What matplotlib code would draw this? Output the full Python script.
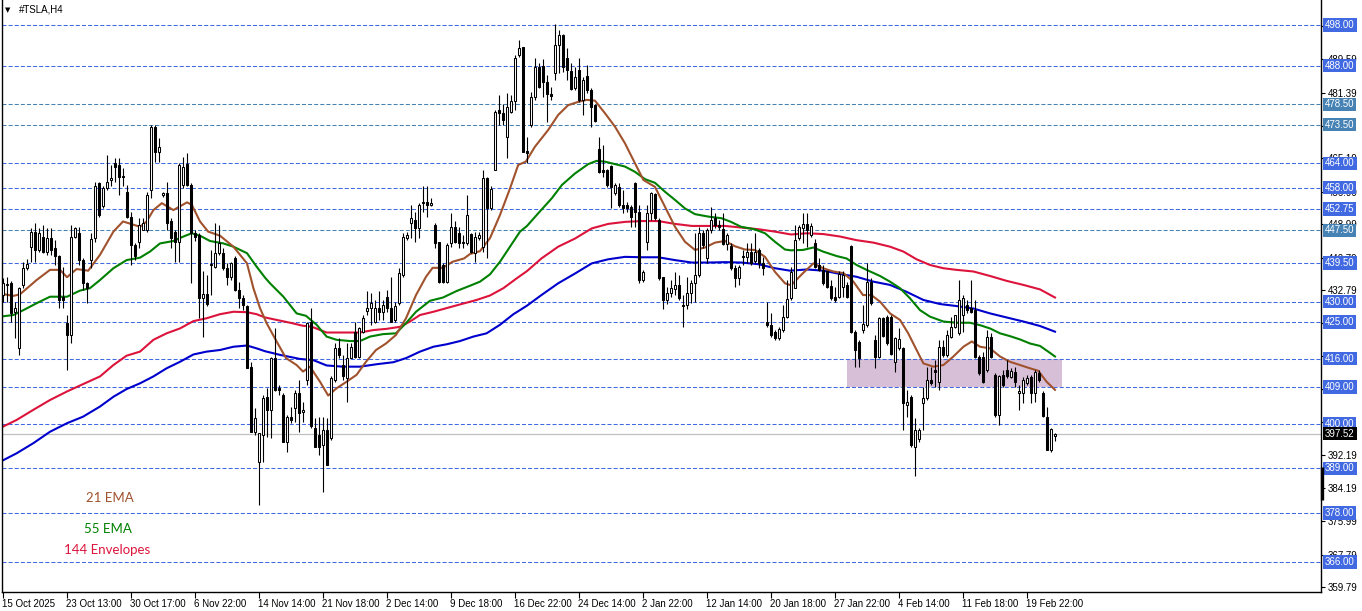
import matplotlib
matplotlib.use('Agg')
from matplotlib import pyplot as plt
from matplotlib.patches import Rectangle
import matplotlib.transforms as mtransforms

plt.rcParams['font.family'] = ['Liberation Sans', 'DejaVu Sans']
plt.rcParams['lines.scale_dashes'] = False

# ---- H4 candles (bar index 0 = 15 Oct 2025) ----
opens = [
    431.6, 434.1, 434.5, 427.5, 418.5, 434.1, 438.2, 443.5, 447.2, 442.7,
    446.0, 442.3, 445.6, 443.1, 441.1, 431.2, 424.7, 421.8, 446.0, 446.8,
    440.2, 434.5, 440.2, 445.6, 459.1, 453.4, 457.9, 460.0, 464.0, 463.6,
    460.9, 457.0, 450.9, 443.9, 444.7, 447.6, 447.6, 457.5, 473.0, 466.9,
    456.2, 456.6, 449.7, 447.0, 444.7, 458.7, 463.8, 458.7, 446.8, 446.4,
    431.0, 431.8, 438.9, 438.6, 441.9, 441.9, 438.2, 436.1, 440.7, 432.9,
    430.8, 428.8, 413.8, 398.0, 390.6, 397.2, 406.6, 403.4, 416.1, 408.7,
    407.0, 395.6, 401.7, 403.8, 407.5, 402.8, 410.7, 425.1, 398.9, 397.2,
    394.8, 398.4, 396.4, 410.7, 418.5, 414.4, 411.1, 416.2, 422.6, 416.5,
    422.6, 427.7, 428.4, 425.1, 428.4, 427.5, 431.2, 428.4, 425.5, 429.6,
    436.5, 445.6, 449.2, 450.1, 448.0, 454.2, 454.6, 453.8, 448.8, 444.7,
    439.0, 434.9, 444.3, 448.4, 446.8, 444.7, 444.3, 446.6, 441.9, 445.6,
    443.5, 460.3, 452.9, 462.4, 477.1, 476.3, 470.5, 476.7, 479.2, 490.6,
    492.7, 467.1, 473.4, 480.2, 487.8, 487.9, 484.1, 481.0, 486.1, 493.1,
    495.5, 489.8, 486.7, 482.4, 487.0, 479.6, 485.5, 482.0, 478.3, 467.4,
    462.3, 462.3, 463.3, 456.6, 458.2, 453.7, 453.7, 453.3, 459.2, 452.1,
    435.3, 444.7, 451.7, 456.4, 450.1, 436.1, 430.4, 432.0, 433.0, 434.1,
    429.2, 429.2, 432.2, 434.5, 436.5, 446.8, 440.6, 447.6, 450.5, 448.8,
    447.8, 444.1, 443.7, 438.2, 435.7, 441.2, 441.0, 442.3, 440.0, 442.7,
    439.4, 425.1, 424.2, 422.6, 421.0, 423.0, 426.3, 430.8, 433.3, 445.6,
    448.0, 449.1, 446.4, 444.3, 439.0, 437.8, 437.6, 433.8, 431.2, 431.2,
    433.7, 434.1, 443.7, 422.6, 420.1, 423.0, 424.3, 434.9, 420.6, 416.5,
    425.9, 426.3, 426.3, 415.2, 418.5, 418.5, 404.6, 406.6, 394.3, 396.1,
    405.0, 406.2, 410.7, 413.2, 410.3, 418.9, 416.9, 421.4, 423.8, 422.2,
    426.7, 429.2, 428.4, 427.9, 416.5, 416.5, 413.2, 421.4, 411.9, 402.1,
    412.0, 413.2, 411.5, 412.8, 407.5, 407.5, 410.0, 411.5, 407.6, 412.5,
    407.5, 401.7, 393.5, 397.0,
]
highs = [
    435.7, 436.1, 435.0, 430.0, 433.7, 439.8, 440.5, 448.0, 449.3, 448.0,
    448.9, 448.0, 448.0, 445.2, 441.5, 438.6, 426.7, 448.9, 448.4, 448.4,
    440.7, 434.9, 446.8, 459.5, 459.5, 458.3, 466.1, 463.6, 465.2, 465.2,
    462.8, 458.7, 452.1, 444.3, 450.5, 450.5, 457.0, 473.4, 473.4, 470.2,
    457.0, 459.5, 450.5, 447.6, 464.0, 465.6, 466.5, 459.1, 447.6, 446.8,
    437.4, 436.6, 442.7, 449.3, 448.9, 443.1, 439.4, 439.8, 441.1, 434.9,
    431.6, 429.2, 415.2, 403.8, 397.6, 407.0, 408.7, 416.5, 423.4, 409.5,
    407.5, 402.1, 404.2, 408.3, 410.7, 405.4, 425.1, 428.4, 401.3, 401.7,
    401.7, 401.3, 411.6, 419.7, 421.0, 416.9, 419.7, 419.7, 425.1, 423.8,
    426.7, 432.5, 432.0, 430.4, 432.5, 430.4, 432.9, 436.1, 430.0, 438.2,
    446.8, 447.2, 453.8, 452.1, 454.2, 458.3, 458.3, 455.4, 449.2, 444.7,
    439.4, 444.3, 451.7, 449.7, 448.4, 446.4, 456.2, 446.8, 447.2, 447.2,
    462.4, 460.7, 458.3, 477.1, 480.8, 478.7, 481.2, 480.8, 490.6, 494.3,
    492.7, 470.5, 481.6, 490.0, 488.6, 489.6, 485.7, 482.8, 498.2, 496.8,
    495.8, 492.3, 488.6, 487.8, 490.0, 485.3, 488.2, 482.4, 478.7, 470.5,
    468.5, 462.7, 463.5, 459.1, 459.1, 457.4, 454.5, 453.7, 459.4, 453.7,
    437.8, 453.7, 457.0, 456.6, 450.5, 436.1, 433.7, 435.3, 437.3, 436.5,
    431.6, 436.1, 435.3, 446.8, 448.4, 447.6, 448.0, 453.3, 451.7, 450.1,
    451.7, 446.8, 444.3, 439.0, 439.0, 442.7, 444.3, 444.3, 446.8, 443.1,
    441.0, 430.0, 427.1, 423.0, 423.8, 429.2, 435.3, 438.6, 448.8, 448.8,
    451.7, 451.7, 449.2, 445.5, 440.6, 439.0, 437.8, 435.3, 433.7, 437.4,
    437.4, 434.9, 443.9, 423.0, 420.6, 429.2, 439.4, 435.7, 421.8, 426.3,
    426.3, 426.7, 426.7, 421.4, 423.4, 418.9, 408.3, 407.0, 401.3, 398.8,
    409.1, 414.0, 414.0, 415.6, 420.6, 420.6, 423.0, 426.3, 426.7, 435.3,
    431.6, 430.4, 435.3, 430.4, 416.9, 417.7, 423.0, 422.2, 412.4, 412.0,
    413.2, 415.6, 413.6, 414.0, 409.5, 411.5, 412.0, 412.0, 413.2, 413.2,
    407.9, 404.2, 398.8, 397.6,
]
lows = [
    430.0, 430.0, 425.1, 421.0, 416.9, 433.3, 437.8, 439.8, 439.8, 442.3,
    441.9, 441.5, 441.5, 439.0, 428.4, 428.4, 413.2, 419.7, 445.6, 439.0,
    432.9, 429.6, 438.2, 444.7, 450.9, 453.0, 457.5, 458.3, 459.5, 456.2,
    458.3, 450.5, 439.0, 440.2, 443.1, 447.6, 447.2, 455.4, 464.4, 464.4,
    455.8, 447.6, 443.1, 439.8, 439.8, 457.9, 458.3, 434.5, 445.0, 425.9,
    421.4, 428.8, 431.6, 438.2, 441.5, 437.8, 434.1, 435.3, 432.5, 428.4,
    428.0, 413.6, 398.0, 397.2, 380.0, 390.6, 396.8, 396.4, 407.9, 407.0,
    395.6, 393.1, 400.1, 400.5, 398.0, 400.5, 409.5, 398.9, 394.3, 392.3,
    383.3, 389.8, 396.0, 410.3, 416.1, 410.7, 405.4, 416.1, 416.1, 416.1,
    422.2, 426.7, 424.3, 424.7, 425.5, 425.5, 427.5, 425.1, 425.1, 429.2,
    436.1, 445.1, 445.6, 444.7, 445.6, 452.1, 450.9, 453.4, 443.1, 434.5,
    434.5, 434.5, 443.5, 444.3, 443.1, 443.1, 443.9, 441.9, 439.8, 445.1,
    442.3, 440.6, 452.5, 462.4, 473.4, 473.4, 465.2, 476.3, 477.1, 490.2,
    466.9, 464.0, 473.0, 479.6, 482.4, 480.4, 474.2, 479.6, 484.5, 486.1,
    486.5, 484.5, 482.0, 482.0, 479.1, 475.9, 481.2, 473.0, 474.2, 461.5,
    460.7, 458.2, 452.9, 456.2, 453.3, 451.7, 452.1, 448.4, 448.4, 434.5,
    434.9, 442.7, 450.1, 450.1, 435.3, 428.3, 429.5, 431.2, 431.6, 430.4,
    423.8, 428.3, 429.6, 430.0, 436.1, 443.1, 439.4, 446.8, 448.0, 447.6,
    443.9, 442.7, 437.8, 433.7, 434.1, 439.0, 439.4, 439.0, 439.4, 438.2,
    436.5, 423.8, 421.4, 420.6, 420.6, 422.6, 425.9, 430.4, 433.3, 445.1,
    444.3, 443.5, 446.0, 438.2, 437.4, 434.1, 433.3, 430.4, 430.0, 430.8,
    431.2, 430.8, 422.2, 414.0, 414.0, 422.2, 423.8, 429.2, 413.6, 416.1,
    421.2, 419.3, 416.9, 412.8, 418.1, 398.4, 401.7, 394.3, 387.0, 395.6,
    398.4, 405.8, 409.5, 409.1, 408.3, 416.5, 416.5, 421.0, 423.4, 421.8,
    422.6, 427.1, 427.1, 416.1, 412.0, 409.9, 412.8, 416.1, 401.7, 399.7,
    409.1, 411.1, 411.1, 409.1, 403.4, 405.0, 409.5, 405.0, 405.4, 410.3,
    401.7, 393.5, 393.1, 395.8,
]
closes = [
    434.5, 434.3, 427.1, 428.4, 433.3, 438.2, 439.2, 447.2, 442.7, 446.8,
    442.3, 445.6, 442.7, 441.1, 430.4, 430.4, 421.8, 446.0, 448.0, 440.2,
    434.5, 433.3, 445.4, 458.3, 451.3, 457.9, 459.5, 460.3, 463.2, 460.7,
    460.6, 450.9, 443.9, 441.1, 448.9, 449.3, 456.2, 473.0, 466.9, 467.9,
    456.6, 449.3, 445.6, 444.7, 463.6, 463.2, 458.7, 446.8, 446.0, 431.0,
    431.8, 429.3, 439.2, 441.9, 444.3, 438.2, 436.1, 439.4, 432.9, 430.8,
    429.2, 413.6, 398.0, 401.3, 397.6, 406.4, 403.4, 416.1, 408.3, 408.3,
    395.6, 401.7, 400.9, 407.5, 402.5, 403.4, 424.7, 399.3, 394.3, 394.3,
    398.4, 389.8, 411.1, 418.7, 416.9, 411.6, 416.1, 418.9, 416.5, 423.4,
    425.9, 428.4, 429.6, 428.4, 427.5, 429.2, 428.4, 425.1, 428.8, 437.0,
    446.0, 446.4, 450.5, 448.0, 453.8, 454.6, 453.8, 454.2, 444.3, 434.9,
    434.9, 443.9, 448.4, 444.7, 444.3, 444.3, 451.3, 442.3, 446.0, 446.4,
    460.3, 452.9, 457.8, 476.7, 476.3, 474.6, 477.9, 479.2, 489.8, 492.3,
    466.9, 466.5, 480.2, 487.6, 482.8, 484.1, 481.0, 480.5, 493.1, 495.5,
    487.8, 487.0, 482.2, 485.1, 479.6, 484.6, 481.9, 477.8, 474.4, 461.9,
    461.9, 458.6, 458.2, 458.6, 453.7, 452.9, 453.1, 450.9, 452.1, 435.3,
    437.3, 451.7, 456.6, 450.5, 435.7, 430.4, 432.0, 433.3, 434.1, 430.8,
    428.8, 432.2, 434.5, 436.5, 446.8, 443.9, 447.6, 450.1, 448.8, 448.4,
    444.1, 446.4, 438.2, 435.7, 438.6, 440.9, 442.3, 439.4, 442.3, 439.4,
    438.2, 424.2, 421.8, 421.0, 423.2, 426.3, 430.6, 437.3, 445.1, 448.4,
    449.1, 447.6, 448.6, 438.6, 437.8, 434.5, 433.7, 430.8, 430.4, 436.9,
    436.5, 431.2, 422.6, 418.1, 416.1, 424.5, 434.9, 429.6, 416.5, 425.9,
    421.6, 419.7, 417.1, 421.0, 420.7, 405.0, 405.4, 394.7, 398.4, 398.4,
    406.2, 410.7, 410.1, 412.8, 418.9, 416.9, 421.8, 423.8, 426.7, 430.4,
    430.8, 427.9, 427.5, 416.5, 412.4, 410.3, 421.4, 416.5, 402.1, 411.6,
    409.5, 411.6, 413.0, 410.3, 408.1, 410.7, 411.1, 407.5, 412.8, 410.7,
    401.9, 393.5, 398.6, 397.52,
]

# ---- indicator lines, sampled off the chart (bar index, price) ----
ema21_x = [-0.75, 2.6, 4.25, 6.75, 8.4, 11.75, 14.25, 16, 18.4, 21.3, 24.25, 27.6, 30, 32.6, 34.25,
           35.9, 37.6, 39.7, 42.6, 46, 47.2, 49.25, 51.3, 54.25, 57.6, 61, 62.6, 64.25, 65.9, 68.4,
           70.75, 73.4, 75, 76.75, 79.25, 81.3, 83.4, 85.9, 88.4, 90.75, 93.25, 95.75, 98.25,
           100.75, 103.25, 105.75, 107.4, 109.9, 112.4, 115.25, 116.75, 119.25, 121.75, 124.25,
           126.75, 128.8, 130.7, 133, 136.3, 138.8, 141.3, 143.8, 145.9, 148, 150.5, 153, 155.5,
           158, 160.1, 163, 165.5, 168, 170.5, 173, 175.5, 178, 180.5, 183, 185.5, 188, 190.5, 193,
           195.5, 197, 200, 202.6, 205, 207.6, 210.1, 212.6, 215, 217.1, 219.25, 221.75, 224.25,
           226.3, 228.4, 230.1, 232.6, 235.1, 237.6, 240.1, 242.2, 244.25, 246.75, 249.25, 251.75,
           254.25, 256.75, 258.8, 260.9, 263]
ema21_y = [432.0, 431.4, 431.8, 433.9, 435.3, 437.8, 437.8, 436.0, 438.0, 437.6, 441.5, 447.2, 449.7,
           448.9, 448.4, 449.7, 452.5, 454.2, 452.5, 454.4, 453.8, 449.7, 447.2, 446.2, 443.5, 439.4,
           433.3, 428.4, 424.7, 420.2, 416.1, 414.4, 412.8, 414.0, 410.3, 406.9, 408.7, 410.3, 412.0,
           415.2, 418.1, 419.7, 421.8, 425.9, 431.6, 436.1, 438.3, 438.3, 439.8, 440.6, 441.7, 442.4,
           445.6, 451.3, 457.8, 463.6, 464.4, 468.1, 472.2, 475.9, 478.3, 479.1, 479.6, 479.4, 476.3,
           473.0, 468.9, 464.0, 459.9, 458.2, 453.3, 448.4, 444.7, 442.7, 443.3, 444.5, 444.9, 443.6,
           442.8, 442.7, 441.0, 437.3, 434.5, 434.0, 437.0, 439.4, 438.2, 437.4, 437.0, 434.9, 431.6,
           431.6, 430.0, 427.1, 425.5, 422.2, 418.1, 414.8, 414.0, 414.4, 416.5, 418.9, 420.2, 418.9,
           418.5, 416.5, 415.2, 414.4, 413.6, 413.0, 410.3, 408.3]

ema55_x = [-0.75, 2.6, 5.1, 8.4, 11.75, 16, 19.25, 21.75, 24.25, 27.6, 30.9, 34.25, 36.75, 39.25, 42.6,
           45.1, 47.2, 49.25, 51.75, 55.1, 57.6, 61, 63.4, 65.5, 66.75, 70.1, 73.4, 75.75, 78.4, 80.9,
           83.4, 86.75, 89.25, 91.75, 95, 98.25, 100.75, 103.25, 106.75, 110, 113.4, 116.75, 119.25,
           121.75, 124.25, 126.75, 129.25, 131, 133.8, 137.2, 139.75, 143, 146.3, 148.4, 150.5, 153,
           155.5, 158, 160.5, 163, 165.5, 168, 170.5, 173, 176.3, 179.6, 182, 184.5, 187.8, 190.5,
           193, 195.5, 197, 200, 202.6, 205, 208.4, 210.9, 213.4, 215.9, 219.25, 221.75, 224.25,
           226.75, 229.25, 231.75, 235.1, 238.4, 241.75, 244.25, 246.75, 249.25, 251.75, 254.25,
           256.75, 259.25, 261.3, 263]
ema55_y = [426.3, 426.7, 427.9, 429.6, 431.2, 431.2, 432.7, 433.3, 435.3, 438.2, 440.2, 440.8, 442.3,
           444.3, 444.9, 446.0, 446.8, 446.2, 444.9, 444.3, 443.5, 441.9, 438.6, 435.9, 434.5, 431.2,
           427.1, 426.5, 424.3, 421.4, 420.6, 420.3, 420.3, 421.4, 422.0, 422.2, 424.7, 427.5, 430.2,
           431.0, 432.6, 433.9, 434.9, 436.7, 439.8, 443.5, 447.2, 448.6, 451.7, 455.4, 458.7, 461.5,
           463.8, 464.6, 464.4, 463.8, 463.2, 461.9, 460.1, 459.2, 457.0, 455.0, 452.9, 451.5, 450.9,
           450.5, 449.6, 448.4, 447.8, 446.8, 444.7, 442.8, 442.6, 442.7, 443.3, 442.3, 441.2, 440.6,
           439.0, 437.8, 436.3, 434.9, 433.3, 430.8, 427.9, 426.3, 425.1, 424.8, 424.8, 424.2, 423.4,
           422.2, 421.5, 420.7, 419.7, 419.1, 417.7, 416.5]

env_upper_x = [-0.75, 3.4, 7.6, 11.75, 16, 20, 24.25, 27.6, 30.9, 34.25, 37.6, 40.9, 44.25, 47.6, 50.9,
               54.25, 57.6, 61, 63.4, 65.5, 68.4, 72.25, 74.75, 77.25, 80.9, 85, 89.25, 92.6, 95.9,
               99.25, 101.75, 104.25, 107.6, 110.9, 114.25, 118.4, 121.75, 125.1, 128.4, 131,
               134.6, 138.8, 143, 147.2, 151.3, 155.5, 159.6, 163.8, 168, 172.2, 176.3, 180.5,
               184.6, 188.8, 193, 197, 201, 205.1, 209.25, 213.4, 217.6, 221.75, 225.1, 228.4,
               231.75, 235.1, 238.4, 242.6, 246.75, 250.9, 255.1, 259.25, 263]
env_upper_y = [398.9, 400.9, 403.4, 405.8, 407.9, 409.7, 411.6, 414.4, 416.7, 417.7, 420.6, 422.2,
               423.4, 425.2, 425.9, 426.9, 427.5, 427.4, 426.9, 426.1, 425.5, 424.7, 424.1, 423.8,
               422.4, 422.4, 422.4, 423.0, 423.3, 423.8, 425.1, 426.7, 427.5, 428.4, 429.3, 430.4,
               431.5, 433.3, 435.7, 437.5, 440.6, 443.5, 445.5, 448.0, 449.1, 449.6, 449.8, 449.8,
               449.1, 448.6, 448.6, 448.6, 448.2, 447.8, 447.2, 446.5, 446.8, 446.6, 446.0, 445.1,
               444.5, 443.5, 442.3, 440.4, 439.0, 438.2, 437.8, 437.4, 436.3, 435.1, 434.1, 433.0,
               431.0]

env_lower_x = [-0.75, 3.4, 7.6, 11.75, 16, 20, 24.25, 27.6, 30.9, 34.25, 37.6, 40.9, 44.25, 47.6, 50.9,
               54.25, 57.6, 61, 63.4, 65.5, 69.25, 74.25, 77.6, 80.9, 85, 89.25, 93.4, 97.6, 100.75,
               104.25, 107.6, 110.9, 114.25, 117.6, 120.9, 124.25, 127.6, 131, 134.6, 138.8, 143,
               147.2, 151.3, 155.5, 159.6, 163.8, 168, 172.2, 176.3, 180.5, 184.6, 188.8, 193,
               196.75, 201, 205.1, 209.25, 213.4, 217.6, 221.75, 225.9, 230.1, 234.25, 238.4, 242.6,
               246.75, 250.9, 255.1, 259.25, 263]
env_lower_y = [390.6, 392.7, 395.2, 398.0, 400.1, 401.7, 404.2, 406.6, 408.5, 409.9, 411.6, 413.6,
               415.2, 417.0, 417.7, 418.1, 418.9, 419.2, 418.5, 417.8, 416.9, 415.9, 415.6, 414.3,
               414.0, 414.0, 414.6, 415.1, 416.1, 417.7, 418.9, 419.5, 420.3, 421.4, 422.2, 424.3,
               426.9, 429.0, 431.6, 434.5, 436.9, 439.4, 440.4, 441.0, 440.9, 440.9, 440.2, 439.6,
               439.6, 439.7, 439.6, 439.2, 438.2, 437.6, 437.9, 437.6, 436.8, 436.1, 434.9, 434.1,
               432.4, 430.4, 429.4, 428.9, 428.3, 427.1, 426.1, 425.1, 424.0, 422.6]

# ---- horizontal levels and axis text ----
levels = [498.00, 488.00, 478.50, 473.50, 464.00, 458.00, 452.75, 447.50, 439.50,
          430.00, 425.00, 416.00, 409.00, 400.00, 389.00, 378.00, 366.00]
steel_levels = [478.50, 473.50, 447.50]
price_ticks = [359.79, 367.79, 375.99, 384.19, 392.19, 400.39, 408.59, 416.59, 424.79,
               432.79, 440.79, 448.99, 456.99, 465.19, 473.19, 481.39, 489.59, 497.79]
# tick labels that sit fully under a level box in the terminal
hidden_ticks = [400.39, 416.59, 424.79, 473.19, 497.79]
date_labels = ['15 Oct 2025', '23 Oct 13:00', '30 Oct 17:00', '6 Nov 22:00', '14 Nov 14:00',
               '21 Nov 18:00', '2 Dec 14:00', '9 Dec 18:00', '16 Dec 22:00', '24 Dec 14:00',
               '2 Jan 22:00', '12 Jan 14:00', '20 Jan 18:00', '27 Jan 22:00', '4 Feb 14:00',
               '11 Feb 18:00', '19 Feb 22:00']
bars_per_label = 16
last_price = 397.52
zone_start, zone_end = 211.0, 264.75
zone_low, zone_high = 409.0, 416.0

W, H = 1362, 611
fig = plt.figure(figsize=(W / 100, H / 100), dpi=100)
ax = fig.add_axes([2 / W, 19 / H, 1319 / W, 592 / H])
ax.set_xlim(-0.25, 329.5)
ax.set_ylim(358.6, 504.15)

# support zone
ax.add_patch(Rectangle((zone_start, zone_low), zone_end - zone_start, zone_high - zone_low,
                       facecolor='#D8BFD8', edgecolor='none', zorder=1))

# dashed levels
for lv in levels:
    col = '#4682B4' if lv in steel_levels else '#4169E1'
    ax.axhline(lv, color=col, lw=0.75, dashes=(2.9, 1.5), zorder=1.5)

# last price line
ax.axhline(last_price, color='#C0C0C0', lw=0.9, zorder=1.6)

# indicators
ax.plot(env_upper_x, env_upper_y, color='#DC143C', lw=1.5, zorder=2)
ax.plot(env_lower_x, env_lower_y, color='#0000CD', lw=1.5, zorder=2)
ax.plot(ema55_x, ema55_y, color='#008000', lw=1.5, zorder=2)
ax.plot(ema21_x, ema21_y, color='#A0522D', lw=1.5, zorder=2)

# candles
xs = list(range(len(opens)))
ax.vlines(xs, lows, highs, color='black', lw=0.8, zorder=3)
bottoms = [min(o, c) for o, c in zip(opens, closes)]
heights = [max(abs(c - o), 0.2) for o, c in zip(opens, closes)]
faces = ['white' if c >= o else 'black' for o, c in zip(opens, closes)]
ax.bar(xs, heights, bottom=bottoms, width=0.5, color=faces, edgecolor='black',
       linewidth=0.75, zorder=4)

# axes styling
for side in ['left', 'bottom', 'right']:
    ax.spines[side].set_linewidth(1.0)
ax.spines['top'].set_visible(False)

ax.yaxis.tick_right()
ax.set_yticks(price_ticks)
ax.set_yticklabels(['' if v in hidden_ticks else '%.2f' % v for v in price_ticks])
ax.tick_params(axis='y', direction='out', length=3, width=0.8, pad=2, labelsize=7)

ax.set_xticks([k * bars_per_label for k in range(len(date_labels))])
ax.set_xticklabels(date_labels, ha='left')
ax.tick_params(axis='x', direction='out', length=4, width=0.8, pad=1, labelsize=7)
for t in ax.get_xticklabels():
    t.set_transform(t.get_transform() + mtransforms.ScaledTranslation(-1 / 100, 0, fig.dpi_scale_trans))

# level labels on the price axis
for lv in levels:
    col = '#4682B4' if lv in steel_levels else '#4169E1'
    ax.annotate('%.2f' % lv, xy=(1, lv), xycoords=('axes fraction', 'data'),
                xytext=(3, 0), textcoords='offset points', ha='left', va='center',
                fontsize=7, color='white', annotation_clip=False, zorder=10,
                bbox=dict(boxstyle='square,pad=0.18', fc=col, ec='none'))
ax.annotate('%.2f' % last_price, xy=(1, last_price), xycoords=('axes fraction', 'data'),
            xytext=(3, 0), textcoords='offset points', ha='left', va='center',
            fontsize=7, color='white', annotation_clip=False, zorder=10,
            bbox=dict(boxstyle='square,pad=0.18', fc='black', ec='none'))

# bid/ask marker on the axis
trans = mtransforms.blended_transform_factory(ax.transAxes, ax.transData)
ax.plot([1.001, 1.001], [381.2, 389.3], color='black', lw=2.4, transform=trans,
        clip_on=False, solid_capstyle='butt', zorder=11)

# header and legend texts
fig.text(5 / W, 1 - 10 / H, '\u25bc', fontsize=5, va='center', family=['DejaVu Sans'])
fig.text(19 / W, 1 - 10 / H, '#TSLA,H4', fontsize=7, va='center')
fig.text(110 / W, 1 - 498 / H, '21 EMA', fontsize=9.5, color='#A0522D', ha='center', va='center',
         family=['Lato', 'DejaVu Sans'])
fig.text(108 / W, 1 - 529 / H, '55 EMA', fontsize=9.5, color='#008000', ha='center', va='center',
         family=['Lato', 'DejaVu Sans'])
fig.text(107 / W, 1 - 550 / H, '144 Envelopes', fontsize=9.5, color='#DC143C', ha='center',
         va='center', family=['Lato', 'DejaVu Sans'])

fig.savefig('out.png', dpi=100)
